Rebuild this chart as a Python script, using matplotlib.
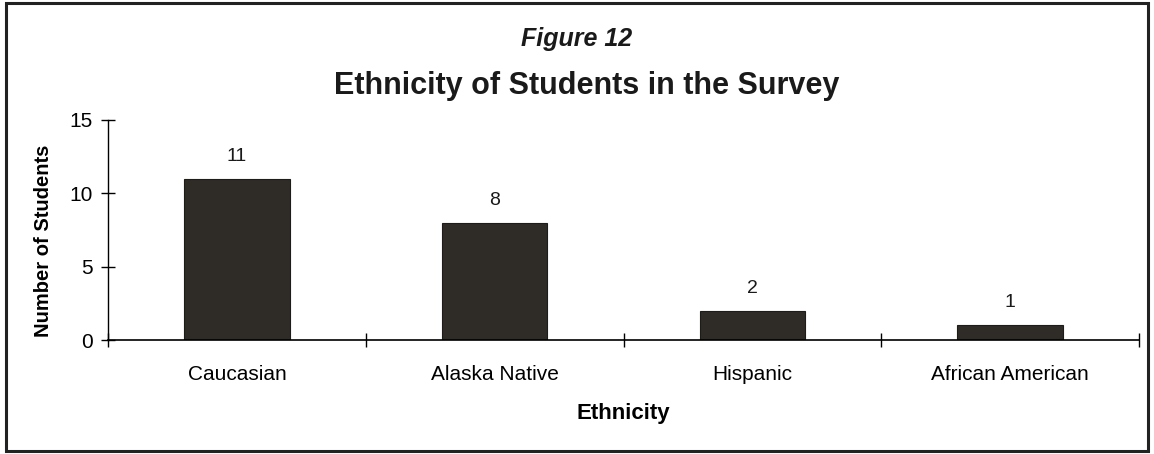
import matplotlib.pyplot as plt
from matplotlib.patches import Rectangle
import numpy as np

plt.rcParams['font.family'] = ['Liberation Sans', 'DejaVu Sans']

ethnicity = ['Caucasian', 'Alaska Native', 'Hispanic', 'African American']
students = [11, 8, 2, 1]

fig = plt.figure(figsize=(11.54, 4.54), dpi=100)
ax = fig.add_axes([0.0936, 0.251, 0.8934, 0.485])

x = np.arange(len(ethnicity))
bars = ax.bar(x, students, width=0.41, color='#2f2b26', edgecolor='#1e1b18', linewidth=0.8)

for xi, v in zip(x, students):
    ax.annotate(str(v), (xi, v), xytext=(0, 10), textcoords='offset points',
                ha='center', va='bottom', fontsize=14, color='#1a1a1a')

ax.set_xlim(-0.5, len(ethnicity) - 0.5)
ax.set_ylim(0, 15)
ax.set_yticks([0, 5, 10, 15])
ax.set_xticks(x)
ax.set_xticklabels(ethnicity, fontsize=15)
ax.tick_params(axis='x', length=0, pad=18)
ax.set_xticks(np.arange(len(ethnicity) + 1) - 0.5, minor=True)
ax.tick_params(axis='x', which='minor', direction='inout', length=10, width=1)
ax.tick_params(axis='y', direction='inout', length=10, width=1, labelsize=15, pad=6)

for s in ['top', 'right']:
    ax.spines[s].set_visible(False)
ax.spines['left'].set_linewidth(1)
ax.spines['bottom'].set_linewidth(1.2)

ax.set_xlabel('Ethnicity', fontsize=16, fontweight='bold', labelpad=14)
ax.set_ylabel('Number of Students', fontsize=14.5, fontweight='bold')
ax.yaxis.set_label_coords(-0.053, 0.45)

fig.text(0.5, 0.915, 'Figure 12', ha='center', va='center', fontsize=18,
         fontweight='bold', fontstyle='italic', color='#1a1a1a')
fig.text(0.508, 0.81, 'Ethnicity of Students in the Survey', ha='center', va='center',
         fontsize=22, fontweight='bold', color='#1a1a1a')

# frame around the whole figure
fig.patches.append(Rectangle((0.005, 0.006), 0.99, 0.987, transform=fig.transFigure,
                             fill=False, edgecolor='#222222', linewidth=2.2))

fig.savefig('out.png', dpi=100)
